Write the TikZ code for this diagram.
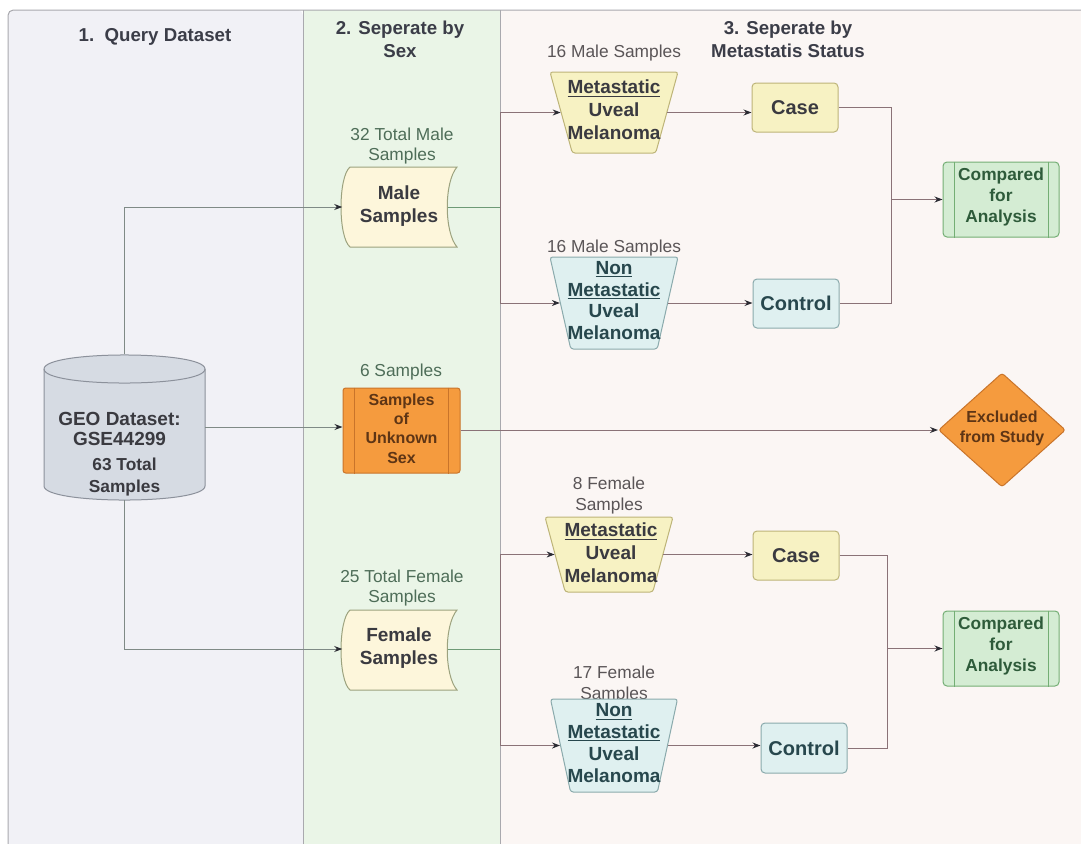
\documentclass[tikz,border=0pt]{standalone}
\usepackage{fontspec}
\setmainfont{Liberation Sans}
\usetikzlibrary{shapes.geometric,arrows.meta}
\definecolor{laneA}{HTML}{F1F1F6}
\definecolor{laneB}{HTML}{EAF5E7}
\definecolor{laneC}{HTML}{FBF6F4}
\definecolor{laneline}{HTML}{A9A9AE}
\definecolor{hdrcol}{HTML}{3B3D48}
\definecolor{lbltwocol}{HTML}{4E6D58}
\definecolor{lblthreecol}{HTML}{5A5557}
\definecolor{docfill}{HTML}{FDF6DB}
\definecolor{docline}{HTML}{9CA27E}
\definecolor{yelfill}{HTML}{F7F2C3}
\definecolor{yelline}{HTML}{BDB478}
\definecolor{bluefill}{HTML}{DFF0F0}
\definecolor{blueline}{HTML}{8AAAAC}
\definecolor{bluetext}{HTML}{27474D}
\definecolor{grnfill}{HTML}{D4ECD3}
\definecolor{grnline}{HTML}{74AE74}
\definecolor{grntext}{HTML}{2E5B3A}
\definecolor{orgfill}{HTML}{F59B3E}
\definecolor{orgline}{HTML}{C9742A}
\definecolor{orgtext}{HTML}{5E3515}
\definecolor{cylfill}{HTML}{D6DBE3}
\definecolor{cylline}{HTML}{8C919B}
\definecolor{darktext}{HTML}{3A3A40}
\definecolor{wireAcol}{HTML}{7F8A86}
\definecolor{wireBcol}{HTML}{6E9A76}
\definecolor{wireCcol}{HTML}{8A7277}
\definecolor{tipcol}{HTML}{2B2B33}
\tikzset{
  hdrtext/.style={font=\fontsize{14}{17}\selectfont\bfseries, text=hdrcol, align=center},
  lbltwo/.style={font=\fontsize{13}{15}\selectfont, text=lbltwocol, align=center},
  lblthree/.style={font=\fontsize{13}{15.5}\selectfont, text=lblthreecol, align=center},
  boldtext/.style={font=\fontsize{14.25}{17.25}\selectfont\bfseries, align=center},
  trap/.style={trapezium, trapezium stretches=true, shape border rotate=180, rounded corners=2pt, line width=0.75pt, inner sep=3pt},
  boxnode/.style={rectangle, rounded corners=3pt, line width=0.75pt, inner sep=0pt},
  wireA/.style={line width=0.75pt, draw=wireAcol},
  wireB/.style={line width=0.75pt, draw=wireBcol},
  wireC/.style={line width=0.75pt, draw=wireCcol},
  arr/.style={-{Stealth[length=6pt,width=4.5pt,color=tipcol]}},
}
\begin{document}
\begin{tikzpicture}[x=0.75pt,y=-0.75pt]
\useasboundingbox (0,0) rectangle (1081,843);
\fill[white] (0,0) rectangle (1081,843);
% lanes
\fill[laneA, rounded corners=4] (8,850) -- (8,10) -- (303,10) -- (303,850) -- cycle;
\fill[laneB] (303,10) rectangle (500,850);
\fill[laneC] (500,10) rectangle (1090,850);
\draw[laneline, line width=0.75pt, rounded corners=4] (8,850) -- (8,10) -- (1090,10);
\draw[laneline, line width=0.75pt] (303,10) -- (303,850);
\draw[laneline, line width=0.75pt] (500,10) -- (500,850);

% headers
\node[hdrtext] (h1) at (155,37) {1.\ \ Query Dataset};
\node[hdrtext] (h2) at (400,39) {2. Seperate by\\Sex};
\node[hdrtext] (h3) at (788,39) {3. Seperate by\\Metastatis Status};

% cylinder
\path[fill=cylfill, draw=cylline, line width=0.75pt]
  (44,369) -- (44,486) .. controls (44,504.7) and (205,504.7) .. (205,486)
  -- (205,369) .. controls (205,350.3) and (44,350.3) .. (44,369) -- cycle;
\draw[cylline, line width=0.75pt] (44,369) .. controls (44,387.7) and (205,387.7) .. (205,369);
\node[minimum width=120.75pt, minimum height=108.75pt, inner sep=0pt] (geo) at (124.5,427) {};
\node[font=\fontsize{14.25}{15}\selectfont\bfseries, align=center, text=darktext] (geot) at (119.5,429) {GEO Dataset:\\GSE44299};
\node[font=\fontsize{13}{16.5}\selectfont\bfseries, align=center, text=darktext] (geon) at (124.5,477) {63 Total\\Samples};

% lane 2 labels
\node[lbltwo] (l32) at (402,146.5) {32 Total Male\\Samples};
\node[lbltwo] (l6) at (401,372) {6 Samples};
\node[lbltwo] (l25) at (402,588.5) {25 Total Female\\Samples};

% male samples document
\path[fill=docfill, draw=docline, line width=0.75pt]
  (350,167) -- (457,167) .. controls (444,182) and (444,232) .. (457,247)
  -- (350,247) .. controls (338,237) and (338,177) .. (350,167) -- cycle;
\node[minimum width=86.25pt, minimum height=60pt, inner sep=0pt] (ms) at (400,207) {};
\node[boldtext, text=darktext] (mst) at (399,206) {Male\\Samples};

% female samples document
\path[fill=docfill, draw=docline, line width=0.75pt]
  (350,610) -- (457,610) .. controls (444,625) and (444,675) .. (457,690)
  -- (350,690) .. controls (338,680) and (338,620) .. (350,610) -- cycle;
\node[minimum width=86.25pt, minimum height=60pt, inner sep=0pt] (fs) at (400,649) {};
\node[boldtext, text=darktext] (fst) at (399,648) {Female\\Samples};

% unknown sex box
\node[boxnode, rounded corners=2pt, fill=orgfill, draw=orgline, minimum width=87.75pt, minimum height=63.75pt] (unk) at (401.5,430.5) {};
\draw[orgline, line width=0.75pt] ([xshift=9pt]unk.north west) -- ([xshift=9pt]unk.south west);
\draw[orgline, line width=0.75pt] ([xshift=-9pt]unk.north east) -- ([xshift=-9pt]unk.south east);
\node[font=\fontsize{12}{14.6}\selectfont\bfseries, text=orgtext, align=center] (unkt) at (401.5,428.5) {Samples\\of\\Unknown\\Sex};

% lane 3 labels
\node[lblthree] (l16a) at (614,53) {16 Male Samples};
\node[lblthree] (l16b) at (614,248) {16 Male Samples};
\node[lblthree] (l8) at (609,495.5) {8 Female\\Samples};
\node[lblthree] (l17) at (614,684.5) {17 Female\\Samples};

% trapezoids
\node[trap, trapezium angle=75, minimum width=96pt, minimum height=60.75pt, fill=yelfill, draw=yelline] (tm1) at (614,112.5) {};
\node[boldtext, text=darktext] (tm1t) at (614,110) {\underline{Metastatic}\\Uveal\\Melanoma};
\node[trap, trapezium angle=76.5, minimum width=96pt, minimum height=69pt, fill=bluefill, draw=blueline] (tm2) at (614,303) {};
\node[boldtext, text=bluetext, font=\fontsize{14.25}{16.3}\selectfont\bfseries] (tm2t) at (614,300.5) {\underline{Non}\\\underline{Metastatic}\\Uveal\\Melanoma};
\node[trap, trapezium angle=77, minimum width=96pt, minimum height=56.25pt, fill=yelfill, draw=yelline] (tf1) at (609,554.5) {};
\node[boldtext, text=darktext] (tf1t) at (611,553) {\underline{Metastatic}\\Uveal\\Melanoma};
\node[trap, trapezium angle=77, minimum width=95.25pt, minimum height=69.75pt, fill=bluefill, draw=blueline] (tf2) at (614,745.5) {};
\node[boldtext, text=bluetext, font=\fontsize{14.25}{16.3}\selectfont\bfseries] (tf2t) at (614,743) {\underline{Non}\\\underline{Metastatic}\\Uveal\\Melanoma};

% case / control
\node[boxnode, fill=yelfill, draw=yelline, minimum width=64.5pt, minimum height=36.75pt, boldtext, font=\fontsize{15}{18}\selectfont\bfseries, text=darktext] (case1) at (795,107.5) {Case};
\node[boxnode, fill=bluefill, draw=blueline, minimum width=64.5pt, minimum height=36.75pt, boldtext, font=\fontsize{15}{18}\selectfont\bfseries, text=bluetext] (ctrl1) at (796,303.5) {Control};
\node[boxnode, fill=yelfill, draw=yelline, minimum width=64.5pt, minimum height=36.75pt, boldtext, font=\fontsize{15}{18}\selectfont\bfseries, text=darktext] (case2) at (796,555.5) {Case};
\node[boxnode, fill=bluefill, draw=blueline, minimum width=64.5pt, minimum height=37.5pt, boldtext, font=\fontsize{15}{18}\selectfont\bfseries, text=bluetext] (ctrl2) at (804,748) {Control};

% compared boxes
\node[boxnode, fill=grnfill, draw=grnline, minimum width=87pt, minimum height=56.25pt] (cmp1) at (1001,199.5) {};
\draw[grnline, line width=0.75pt] ([xshift=9pt]cmp1.north west) -- ([xshift=9pt]cmp1.south west);
\draw[grnline, line width=0.75pt] ([xshift=-8.25pt]cmp1.north east) -- ([xshift=-8.25pt]cmp1.south east);
\node[font=\fontsize{13}{15.75}\selectfont\bfseries, text=grntext, align=center] (cmp1t) at (1001,197.5) {Compared\\for\\Analysis};
\node[boxnode, fill=grnfill, draw=grnline, minimum width=87pt, minimum height=56.25pt] (cmp2) at (1001,648.5) {};
\draw[grnline, line width=0.75pt] ([xshift=9pt]cmp2.north west) -- ([xshift=9pt]cmp2.south west);
\draw[grnline, line width=0.75pt] ([xshift=-8.25pt]cmp2.north east) -- ([xshift=-8.25pt]cmp2.south east);
\node[font=\fontsize{13}{15.75}\selectfont\bfseries, text=grntext, align=center] (cmp2t) at (1001,646.5) {Compared\\for\\Analysis};

% excluded diamond
\node[diamond, fill=orgfill, draw=orgline, line width=0.75pt, minimum width=95.25pt, minimum height=85.5pt, inner sep=2pt, rounded corners=2pt] (excl) at (1002,430) {};
\node[font=\fontsize{12}{15}\selectfont\bfseries, text=orgtext, align=center] (exclt) at (1002,428) {Excluded\\from Study};

% connectors from dataset
\draw[wireA, arr] (geo.north) |- (ms.west);
\draw[wireA, arr] (geo.south) |- (fs.west);
\draw[wireA, arr] (geo.east) -- (geo.east -| unk.west);
\draw[wireC, arr] (unk.east |- excl.west) -- (excl.west);

% male split
\coordinate (msplit) at (500,207);
\draw[wireB] ([xshift=-7.5pt]ms.east) -- (msplit);
\draw[wireC, arr] (msplit) |- (tm1.west);
\draw[wireC, arr] (msplit) |- (tm2.west);
\draw[wireC, arr] (tm1.east) -- (tm1.east -| case1.west);
\draw[wireC, arr] (tm2.east) -- (tm2.east -| ctrl1.west);
\coordinate (j1) at (891,199.5);
\draw[wireC] (case1.east) -| (j1);
\draw[wireC] (ctrl1.east) -| (j1);
\draw[wireC, arr] (j1) -- (cmp1.west);

% female split
\coordinate (fsplit) at (500,649);
\draw[wireB] ([xshift=-7.5pt]fs.east) -- (fsplit);
\draw[wireC, arr] (fsplit) |- (tf1.west);
\draw[wireC, arr] (fsplit) |- (tf2.west);
\draw[wireC, arr] (tf1.east) -- (tf1.east -| case2.west);
\draw[wireC, arr] (tf2.east) -- (tf2.east -| ctrl2.west);
\coordinate (j2) at (887,648.5);
\draw[wireC] (case2.east) -| (j2);
\draw[wireC] (ctrl2.east) -| (j2);
\draw[wireC, arr] (j2) -- (cmp2.west);
\end{tikzpicture}
\end{document}
